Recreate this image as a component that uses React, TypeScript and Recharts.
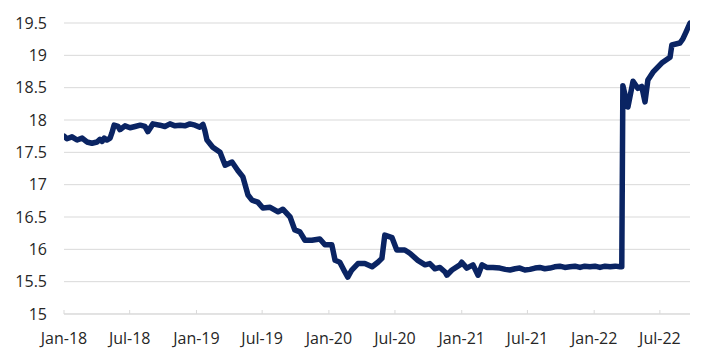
import React from "react";
import { LineChart, Line, XAxis, YAxis, CartesianGrid } from "recharts";

const dates: string[] = [
  "2018-01-01", "2018-01-09", "2018-01-23", "2018-02-06", "2018-02-20", "2018-03-05", "2018-03-19",
  "2018-04-02", "2018-04-10", "2018-04-16", "2018-04-22", "2018-04-29", "2018-05-08", "2018-05-13",
  "2018-05-19", "2018-05-30", "2018-06-04", "2018-06-18", "2018-07-02", "2018-07-16", "2018-07-30",
  "2018-08-12", "2018-08-20", "2018-09-03", "2018-09-22", "2018-10-06", "2018-10-20", "2018-11-03",
  "2018-11-17", "2018-11-30", "2018-12-14", "2018-12-28", "2019-01-10", "2019-01-19", "2019-01-24",
  "2019-01-30", "2019-02-15", "2019-03-07", "2019-03-21", "2019-04-09", "2019-04-25", "2019-05-09",
  "2019-05-23", "2019-06-03", "2019-06-19", "2019-07-03", "2019-07-23", "2019-08-14", "2019-08-27",
  "2019-09-16", "2019-09-29", "2019-10-13", "2019-10-27", "2019-11-15", "2019-12-07", "2019-12-21",
  "2020-01-09", "2020-01-18", "2020-01-31", "2020-02-14", "2020-02-22", "2020-03-04", "2020-03-21",
  "2020-04-09", "2020-04-29", "2020-05-15", "2020-05-26", "2020-06-03", "2020-06-23", "2020-07-06",
  "2020-07-28", "2020-08-11", "2020-09-02", "2020-09-22", "2020-10-05", "2020-10-19", "2020-11-02",
  "2020-11-16", "2020-11-21", "2020-12-05", "2020-12-27", "2021-01-01", "2021-01-15", "2021-02-01",
  "2021-02-15", "2021-02-26", "2021-03-11", "2021-03-28", "2021-04-16", "2021-05-01", "2021-05-14",
  "2021-05-28", "2021-06-10", "2021-06-24", "2021-07-08", "2021-07-22", "2021-08-04", "2021-08-18",
  "2021-09-01", "2021-09-14", "2021-09-28", "2021-10-12", "2021-10-26", "2021-11-09", "2021-11-23",
  "2021-12-06", "2021-12-20", "2022-01-03", "2022-01-17", "2022-01-31", "2022-02-14", "2022-02-28",
  "2022-03-13", "2022-03-18", "2022-03-21", "2022-04-04", "2022-04-18", "2022-05-01", "2022-05-12",
  "2022-05-21", "2022-05-29", "2022-06-12", "2022-07-06", "2022-07-29", "2022-08-03", "2022-08-25",
  "2022-09-02", "2022-09-11", "2022-09-22",
];

const values: number[] = [
  17.75, 17.71, 17.74, 17.69, 17.72, 17.66, 17.64,
  17.66, 17.7, 17.67, 17.72, 17.69, 17.72, 17.8,
  17.92, 17.9, 17.85, 17.91, 17.88, 17.9, 17.92,
  17.9, 17.82, 17.94, 17.92, 17.9, 17.94, 17.91,
  17.92, 17.91, 17.94, 17.92, 17.89, 17.93, 17.84,
  17.69, 17.58, 17.5, 17.3, 17.35, 17.22, 17.12,
  16.84, 16.76, 16.73, 16.64, 16.65, 16.58, 16.62,
  16.5, 16.3, 16.27, 16.14, 16.14, 16.16, 16.07,
  16.07, 15.83, 15.8, 15.65, 15.57, 15.68, 15.78,
  15.78, 15.73, 15.8, 15.86, 16.22, 16.18, 15.99,
  15.99, 15.94, 15.83, 15.76, 15.78, 15.7, 15.72,
  15.65, 15.6, 15.68, 15.76, 15.8, 15.71, 15.76,
  15.6, 15.76, 15.72, 15.72, 15.71, 15.69, 15.68,
  15.7, 15.71, 15.68, 15.69, 15.71, 15.72, 15.7,
  15.71, 15.73, 15.74, 15.72, 15.73, 15.74, 15.72,
  15.74, 15.73, 15.74, 15.72, 15.74, 15.73, 15.74,
  15.73, 15.73, 18.53, 18.2, 18.6, 18.49, 18.52,
  18.28, 18.62, 18.74, 18.88, 18.97, 19.16, 19.19,
  19.25, 19.36, 19.5,
];

const xTickDates: string[] = [
  "2018-01-01", "2018-07-01", "2019-01-01", "2019-07-01", "2020-01-01",
  "2020-07-01", "2021-01-01", "2021-07-01", "2022-01-01", "2022-07-01",
];
const xTickLabels: string[] = [
  "Jan-18", "Jul-18", "Jan-19", "Jul-19", "Jan-20",
  "Jul-20", "Jan-21", "Jul-21", "Jan-22", "Jul-22",
];
const yTicks: number[] = [15, 15.5, 16, 16.5, 17, 17.5, 18, 18.5, 19, 19.5];

const toT = (s: string) => Date.parse(s + "T00:00:00Z");
const data = dates.map((d, i) => ({ t: toT(d), v: values[i] }));
const xTicks = xTickDates.map(toT);
const labelFor = (t: number) => {
  const i = xTicks.indexOf(t);
  return i >= 0 ? xTickLabels[i] : "";
};

const XTick = (props: any) => {
  const { x, y, payload } = props;
  return (
    <g>
      <line x1={x} x2={x} y1={y - 4} y2={y} stroke="#d9d9d9" strokeWidth={1} />
      <text x={x} y={y + 30} textAnchor="middle" fill="#262626" fontSize={16}>
        {labelFor(payload.value)}
      </text>
    </g>
  );
};

export default function App() {
  return (
    <div style={{ fontFamily: "'Open Sans', sans-serif" }}>
      <LineChart
        width={697}
        height={346}
        data={data}
        margin={{ top: 15, right: 15, bottom: 10, left: 6 }}
      >
        <CartesianGrid horizontal={true} vertical={false} stroke="#d9d9d9" strokeWidth={1} />
        <XAxis
          dataKey="t"
          type="number"
          domain={[toT("2018-01-01"), toT("2022-09-22")]}
          ticks={xTicks}
          tick={<XTick />}
          tickLine={false}
          tickSize={0}
          tickMargin={0}
          axisLine={{ stroke: "#d9d9d9", strokeWidth: 1 }}
          height={30}
          interval={0}
          allowDataOverflow
        />
        <YAxis
          type="number"
          domain={[15, 19.5]}
          ticks={yTicks}
          axisLine={false}
          tickLine={false}
          tickSize={0}
          tickMargin={17}
          width={50}
          interval={0}
          tick={{ fill: "#262626", fontSize: 16 }}
        />
        <Line
          type="linear"
          dataKey="v"
          stroke="#0a2463"
          strokeWidth={5.5}
          strokeLinejoin="round"
          strokeLinecap="round"
          dot={false}
          activeDot={false}
          isAnimationActive={false}
        />
      </LineChart>
    </div>
  );
}
